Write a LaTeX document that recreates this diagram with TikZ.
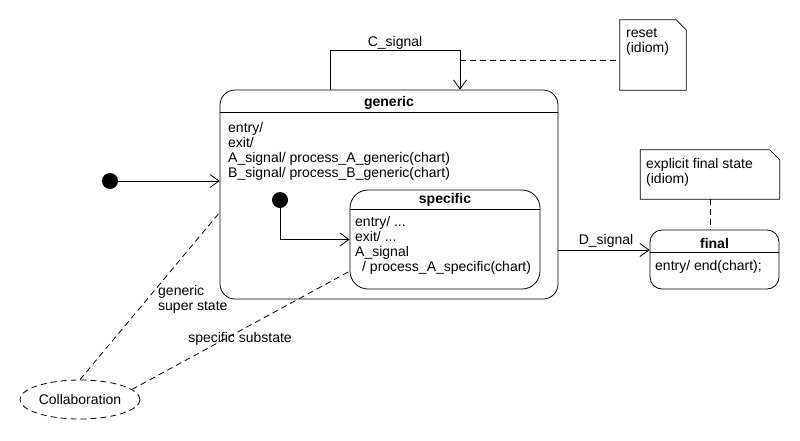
\documentclass[tikz,border=0pt]{standalone}
\usepackage{fontspec}
\setmainfont{Liberation Sans}
\usetikzlibrary{arrows.meta,shapes.geometric,calc}
\newcommand{\mylines}[1]{\begin{tabular}[t]{@{}l@{}}#1\end{tabular}}
\renewcommand{\arraystretch}{1}
\tikzset{
  txt/.style={font=\fontsize{14}{15}\selectfont, inner sep=0pt, anchor=base west},
  ttl/.style={font=\bfseries\fontsize{14}{15}\selectfont, inner sep=0pt, anchor=base},
  lbl/.style={font=\fontsize{14}{15}\selectfont, inner sep=0pt, anchor=base},
  statebox/.style={draw, line width=0.8pt, inner sep=0pt},
  notebox/.style={inner sep=0pt},
  dot/.style={circle, fill=black, inner sep=0pt, minimum size=16pt},
  arr/.style={line width=0.8pt, -{Straight Barb[length=9pt,width=13pt,line width=0.8pt]}},
  dsh/.style={line width=0.8pt, dash pattern=on 6pt off 4pt},
}
\begin{document}
\begin{tikzpicture}[x=1pt,y=-1pt]
\useasboundingbox[fill=white] (0,0) rectangle (800,440);

% generic state
\node[statebox, rounded corners=15pt, minimum width=338pt, minimum height=209pt] (generic) at (389,194.5) {};
\draw[line width=0.8pt] ([yshift=-23pt]generic.north west) -- ([yshift=-23pt]generic.north east);
\node[ttl] (gentitle) at (389,106) {generic};
\node[txt] (genbody) at (228,132) {\mylines{entry/\\exit/\\A\_signal/ process\_A\_generic(chart)\\B\_signal/ process\_B\_generic(chart)}};

% specific state
\node[statebox, rounded corners=18pt, minimum width=190pt, minimum height=99pt] (specific) at (445,239.5) {};
\draw[line width=0.8pt] ([yshift=-20pt]specific.north west) -- ([yshift=-20pt]specific.north east);
\node[ttl] (spectitle) at (445,203) {specific};
\node[txt] (specbody) at (355,226) {\mylines{entry/ ...\\exit/ ...\\A\_signal\\\hspace*{7pt}/ process\_A\_specific(chart)}};

% final state
\node[statebox, rounded corners=12pt, minimum width=129pt, minimum height=59pt] (final) at (714.5,259.5) {};
\draw[line width=0.8pt] ([yshift=-23pt]final.north west) -- ([yshift=-23pt]final.north east);
\node[ttl] (fintitle) at (714.5,248) {final};
\node[txt] (finbody) at (655,270) {entry/ end(chart);};

% initial pseudostates
\node[dot] (init) at (110,181) {};
\draw[arr] (init) -- (init -| generic.west);
\node[dot] (init2) at (280,200) {};
\draw[arr] (init2.center) |- (specific.west);

% C_signal self transition
\coordinate (cL) at (330,50);
\coordinate (cR) at (460,50);
\draw[arr] (cL |- generic.north) -- (cL) -- (cR) -- (cR |- generic.north);
\node[lbl] (clabel) at (395,46) {C\_signal};

% reset note
\node[notebox, minimum width=66pt, minimum height=70pt] (reset) at (653,55) {};
\draw[line width=0.8pt] (reset.north west) -- ([xshift=-10pt]reset.north east) -- ([yshift=-10pt]reset.north east) -- (reset.south east) -- (reset.south west) -- cycle;
\node[txt] (resettxt) at (626,37) {\mylines{reset\\(idiom)}};
\coordinate (cD) at (460,60);
\draw[dsh] (cD) -- (cD -| reset.west);

% D_signal
\coordinate (dsig) at (600,250);
\draw[arr] (dsig -| generic.east) -- (dsig -| final.west);
\node[lbl] (dlabel) at (606,244) {D\_signal};

% explicit final note
\node[notebox, minimum width=139pt, minimum height=49pt] (expl) at (710,174.5) {};
\draw[line width=0.8pt] (expl.north west) -- ([xshift=-10pt]expl.north east) -- ([yshift=-10pt]expl.north east) -- (expl.south east) -- (expl.south west) -- cycle;
\node[txt] (expltxt) at (646,168) {\mylines{explicit final state\\(idiom)}};
\draw[dsh] (expl.south) -- (expl.south |- final.north);

% collaboration
\node[ellipse, draw, dsh, minimum width=120pt, minimum height=39pt, inner sep=0pt, font=\fontsize{14}{15}\selectfont] (collab) at (80,399.5) {Collaboration};
\coordinate (g1) at (220,212);
\coordinate (s1) at (350,271);
\draw[dsh] (collab.north) -- (g1);
\draw[dsh] (collab.11) -- (s1);
\node[txt] (glabel) at (158,295) {\mylines{generic\\super state}};
\node[lbl] (slabel) at (240,342) {specific substate};
\end{tikzpicture}
\end{document}
